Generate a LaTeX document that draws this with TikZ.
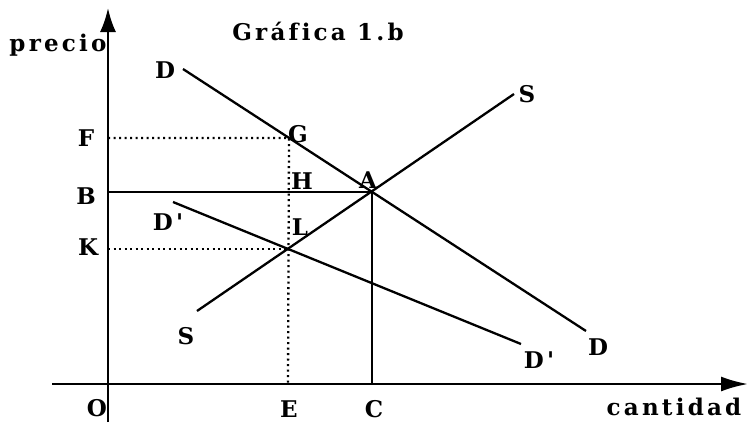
\documentclass[tikz,border=0pt]{standalone}
\usepackage{fontspec}
\newfontfamily\labfont[LetterSpace=14,Ligatures=NoCommon]{DejaVu Serif}
\usetikzlibrary{arrows.meta}
\begin{document}
\begin{tikzpicture}[x=1pt,y=-1pt,
  lbl/.style={font=\labfont\bfseries\fontsize{23}{23}\selectfont, inner sep=0pt},
  curve/.style={line width=2.3pt},
  axis/.style={line width=2.3pt},
  guide/.style={line width=2.3pt, dash pattern=on 2pt off 3.5pt}]
\useasboundingbox (0,0) rectangle (748,424);
% axes
\coordinate (O) at (108,384);
\coordinate (ytop) at (108,8);
\coordinate (ybot) at (108,422);
\coordinate (xleft) at (52,384);
\coordinate (xright) at (748,384);
\draw[axis] (ybot) -- (O);
\draw[axis,-{Latex[length=24pt,width=16pt]}] (O) -- (ytop);
\draw[axis,-{Latex[length=27pt,width=15pt]}] (xleft) -- (xright);
% key points
\coordinate (A) at (372,192);
\coordinate (G) at (289,138);
\coordinate (L) at (288,249);
\coordinate (Fp) at (108,138);
\coordinate (Bp) at (108,192);
\coordinate (Kp) at (108,249);
\coordinate (Ep) at (288,384);
\coordinate (Cp) at (372,384);
% curves
\coordinate (D1) at (183,69);
\coordinate (D2) at (586,331);
\coordinate (S1) at (197,311);
\coordinate (S2) at (514,94);
\coordinate (Q1) at (173,202);
\coordinate (Q2) at (521,344);
\draw[curve] (D1) -- (D2);
\draw[curve] (S1) -- (S2);
\draw[curve] (Q1) -- (Q2);
% solid guides
\draw[curve] (Bp) -- (A) -- (Cp);
% dotted guides
\draw[guide] (Fp) -- (G) -- (Ep);
\draw[guide] (Kp) -- (L);
% labels
\node[lbl] (tprecio) at (58,45) {precio};
\node[lbl] (ttitle) at (318,31) {Gráfica 1.b};
\node[lbl] (tD1) at (165,70) {D};
\node[lbl] (tD2) at (598,347) {D};
\node[lbl] (tS1) at (186,336) {S};
\node[lbl] (tS2) at (527,94) {S};
\node[lbl] (tQ1) at (168,222) {D'};
\node[lbl] (tQ2) at (539,360) {D'};
\node[lbl] (tF) at (86,138) {F};
\node[lbl] (tB) at (86,196) {B};
\node[lbl] (tK) at (88,247) {K};
\node[lbl] (tO) at (97,408) {O};
\node[lbl] (tE) at (289,409) {E};
\node[lbl] (tC) at (374,409) {C};
\node[lbl] (tcant) at (674,407) {cantidad};
\node[lbl] (tG) at (298,134) {G};
\node[lbl] (tH) at (302,181) {H};
\node[lbl] (tA) at (368,180) {A};
\node[lbl] (tL) at (300,227) {L};
\end{tikzpicture}
\end{document}
